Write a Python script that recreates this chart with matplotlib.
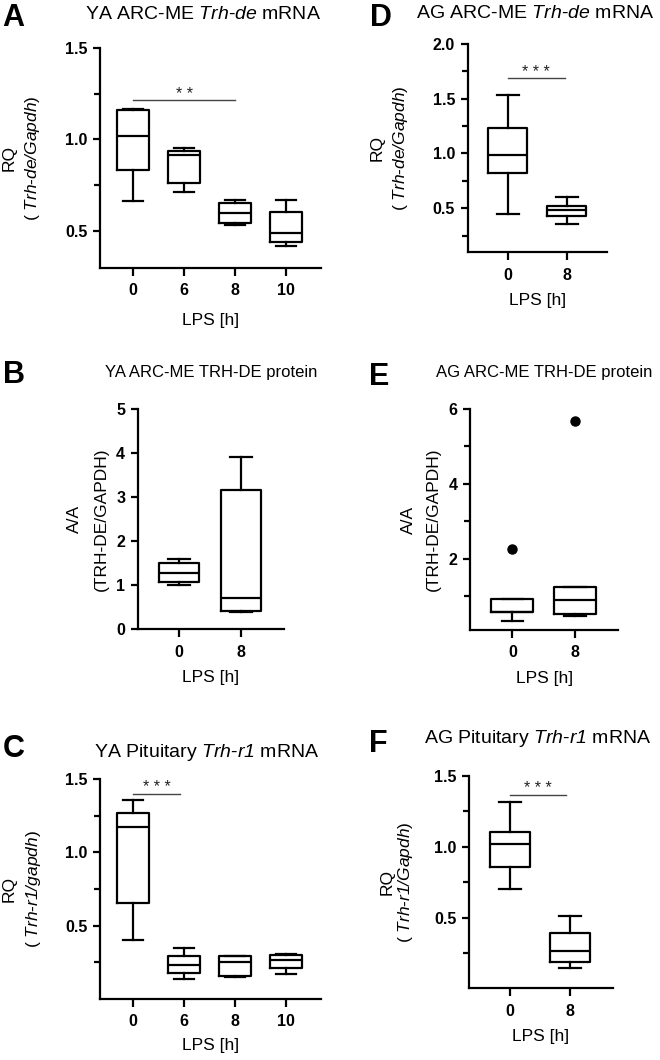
import matplotlib
matplotlib.use("Agg")
import matplotlib.pyplot as plt
from matplotlib.ticker import FixedLocator

plt.rcParams['font.family'] = ['Liberation Sans', 'DejaVu Sans']
plt.rcParams['mathtext.fontset'] = 'custom'
plt.rcParams['mathtext.rm'] = 'Liberation Sans:italic'
plt.rcParams['mathtext.it'] = 'Liberation Sans:italic'
plt.rcParams['mathtext.bf'] = 'Liberation Sans:bold'

# ---------------- data ----------------
# Panel A: YA ARC-ME Trh-de mRNA
a_categories = ['0', '6', '8', '10']
a_max = [1.167, 0.951, 0.670, 0.672]
a_q3 = [1.160, 0.940, 0.655, 0.603]
a_median = [1.020, 0.913, 0.598, 0.493]
a_q1 = [0.833, 0.762, 0.547, 0.444]
a_min = [0.665, 0.714, 0.534, 0.422]
a_outliers = [[], [], [], []]
a_yticks = [0.5, 1.0, 1.5]

# Panel D: AG ARC-ME Trh-de mRNA
d_categories = ['0', '8']
d_max = [1.536, 0.603]
d_q3 = [1.229, 0.524]
d_median = [0.985, 0.481]
d_q1 = [0.823, 0.435]
d_min = [0.447, 0.362]
d_outliers = [[], []]
d_yticks = [0.5, 1.0, 1.5, 2.0]

# Panel B: YA ARC-ME TRH-DE protein
b_categories = ['0', '8']
b_max = [1.59, 3.92]
b_q3 = [1.51, 3.17]
b_median = [1.27, 0.72]
b_q1 = [1.07, 0.42]
b_min = [1.00, 0.39]
b_outliers = [[], []]
b_yticks = [0, 1, 2, 3, 4, 5]

# Panel E: AG ARC-ME TRH-DE protein
e_categories = ['0', '8']
e_max = [0.93, 1.235]
e_q3 = [0.93, 1.235]
e_median = [0.568, 0.907]
e_q1 = [0.568, 0.525]
e_min = [0.328, 0.48]
e_outliers = [[2.25], [5.69]]
e_yticks = [2, 4, 6]

# Panel C: YA Pituitary Trh-r1 mRNA
c_categories = ['0', '6', '8', '10']
c_max = [1.354, 0.349, 0.293, 0.308]
c_q3 = [1.268, 0.290, 0.293, 0.297]
c_median = [1.175, 0.231, 0.252, 0.263]
c_q1 = [0.655, 0.177, 0.159, 0.211]
c_min = [0.399, 0.136, 0.150, 0.172]
c_outliers = [[], [], [], []]
c_yticks = [0.5, 1.0, 1.5]

# Panel F: AG Pituitary Trh-r1 mRNA
f_categories = ['0', '8']
f_max = [1.313, 0.512]
f_q3 = [1.103, 0.390]
f_median = [1.019, 0.266]
f_q1 = [0.857, 0.189]
f_min = [0.703, 0.145]
f_outliers = [[], []]
f_yticks = [0.5, 1.0, 1.5]

W, H = 660, 1060
fig = plt.figure(figsize=(W / 100, H / 100), dpi=100)


def fx(x):
    return x / W


def fy(y):
    return 1 - y / H


def panel(box_px, cats, mx, q3, med, q1, mn, outl, ylim, major, fmt, minor,
          xlim, box_w, cap_w, title, title_xy, title_size, letter, letter_xy,
          ylab1, ylab2, ylab_off, xlab_base, sig=None):
    l, t, r, b = box_px
    ax = fig.add_axes([fx(l), fy(b), (r - l) / W, (b - t) / H])
    stats = []
    for i in range(len(cats)):
        stats.append(dict(med=med[i], q1=q1[i], q3=q3[i], whislo=mn[i],
                          whishi=mx[i], fliers=outl[i]))
    lw = 1.6
    ax.bxp(stats, positions=list(range(len(cats))), widths=box_w,
           capwidths=cap_w, showfliers=True,
           boxprops=dict(color='black', linewidth=lw),
           whiskerprops=dict(color='black', linewidth=lw),
           capprops=dict(color='black', linewidth=lw),
           medianprops=dict(color='black', linewidth=lw),
           flierprops=dict(marker='o', markerfacecolor='black',
                           markeredgecolor='black', markersize=6.5))
    ax.set_xlim(*xlim)
    ax.set_ylim(*ylim)
    ax.set_xticks(list(range(len(cats))))
    ax.set_xticklabels(cats)
    ax.yaxis.set_major_locator(FixedLocator(major))
    ax.yaxis.set_minor_locator(FixedLocator(minor))
    ax.set_yticklabels([fmt % v for v in major])
    for s in ['top', 'right']:
        ax.spines[s].set_visible(False)
    for s in ['left', 'bottom']:
        ax.spines[s].set_linewidth(1.6)
    ax.tick_params(axis='both', which='major', length=5, width=1.6,
                   labelsize=11.5, pad=4)
    ax.tick_params(axis='y', which='minor', length=4.5, width=1.6)
    ax.tick_params(axis='x', which='major', length=6, pad=5)
    for lab in ax.get_xticklabels() + ax.get_yticklabels():
        lab.set_fontweight('bold')
    # texts
    fig.text(fx(letter_xy[0]), fy(letter_xy[1]), letter, fontsize=22,
             fontweight='bold', ha='left', va='baseline')
    fig.text(fx(title_xy[0]), fy(title_xy[1]), title, fontsize=title_size,
             ha='left', va='baseline')
    yc = (t + b) / 2
    fig.text(fx(l + ylab_off[0]), fy(yc), ylab1, fontsize=12.5, rotation=90,
             ha='center', va='center')
    fig.text(fx(l + ylab_off[1]), fy(yc), ylab2, fontsize=12.5, rotation=90,
             ha='center', va='center')
    fig.text(fx((l + r) / 2), fy(xlab_base), 'LPS [h]', fontsize=12.5,
             ha='center', va='baseline')
    if sig is not None:
        x0, x1, yv, stars = sig
        ax.plot([x0, x1], [yv, yv], color='#444444', linewidth=1.0)
        ax.annotate(stars, xy=((x0 + x1) / 2, yv), xytext=(0, 1.0),
                    textcoords='offset points', ha='center', va='baseline',
                    fontsize=11.5, color='#222222')
    return ax


# Panel A
panel((100, 47.7, 321, 268), a_categories, a_max, a_q3, a_median, a_q1, a_min,
      a_outliers, (0.3, 1.5), a_yticks, '%.1f', [0.75, 1.25], (-0.65, 3.69),
      0.63, 0.4, r'YA ARC-ME $Trh$-$de$ mRNA', (85, 19), 14,
      'A', (2, 25.5), 'RQ', r'( $Trh$-$de/Gapdh$)',
      (-90.7, -67), 325, sig=(0, 2, 1.214, '* *'))

# Panel D
panel((467.7, 43.7, 606.7, 252.3), d_categories, d_max, d_q3, d_median, d_q1,
      d_min, d_outliers, (0.1, 2.0), d_yticks, '%.1f',
      [0.25, 0.75, 1.25, 1.75], (-0.68, 1.68), 0.655, 0.37,
      r'AG ARC-ME $Trh$-$de$ mRNA', (416, 18.5), 14,
      'D', (370, 26), 'RQ', r'( $Trh$-$de/Gapdh$)',
      (-91, -67.7), 305, sig=(0, 0.97, 1.686, '* * *'))

# Panel B
panel((137.7, 409, 284, 629.3), b_categories, b_max, b_q3, b_median, b_q1,
      b_min, b_outliers, (0, 5), b_yticks, '%d', [], (-0.67, 1.70),
      0.64, 0.35, 'YA ARC-ME TRH-DE protein', (105, 376.7), 12,
      'B', (3, 383), 'A/A', '(TRH-DE/GAPDH)', (-63.5, -36.7), 682)

# Panel E
panel((470, 409, 618.3, 630), e_categories, e_max, e_q3, e_median, e_q1,
      e_min, e_outliers, (0.1, 6), e_yticks, '%d', [1, 3, 5], (-0.675, 1.69),
      0.675, 0.34, 'AG ARC-ME TRH-DE protein', (436, 376.7), 12,
      'E', (369, 385), 'A/A', '(TRH-DE/GAPDH)', (-61.7, -36.7), 683)

# Panel C
panel((100, 779, 321, 999), c_categories, c_max, c_q3, c_median, c_q1, c_min,
      c_outliers, (0, 1.5), c_yticks, '%.1f', [0.25, 0.75, 1.25],
      (-0.65, 3.69), 0.62, 0.4,
      r'YA Pituitary $Trh$-$r1$ mRNA', (94, 757), 14,
      'C', (3, 756.7), 'RQ', r'( $Trh$-$r1/gapdh$)',
      (-90.5, -66.7), 1050, sig=(0, 0.915, 1.399, '* * *'))

# Panel F
panel((469.3, 776, 612.7, 988.3), f_categories, f_max, f_q3, f_median, f_q1,
      f_min, f_outliers, (0, 1.5), f_yticks, '%.1f', [0.25, 0.75, 1.25],
      (-0.68, 1.71), 0.655, 0.36,
      r'AG Pituitary $Trh$-$r1$ mRNA', (424, 743.3), 14,
      'F', (369, 751.7), 'RQ', r'( $Trh$-$r1/Gapdh$)',
      (-82, -64), 1040.7, sig=(0, 0.93, 1.367, '* * *'))

fig.savefig('out.png', dpi=100)
